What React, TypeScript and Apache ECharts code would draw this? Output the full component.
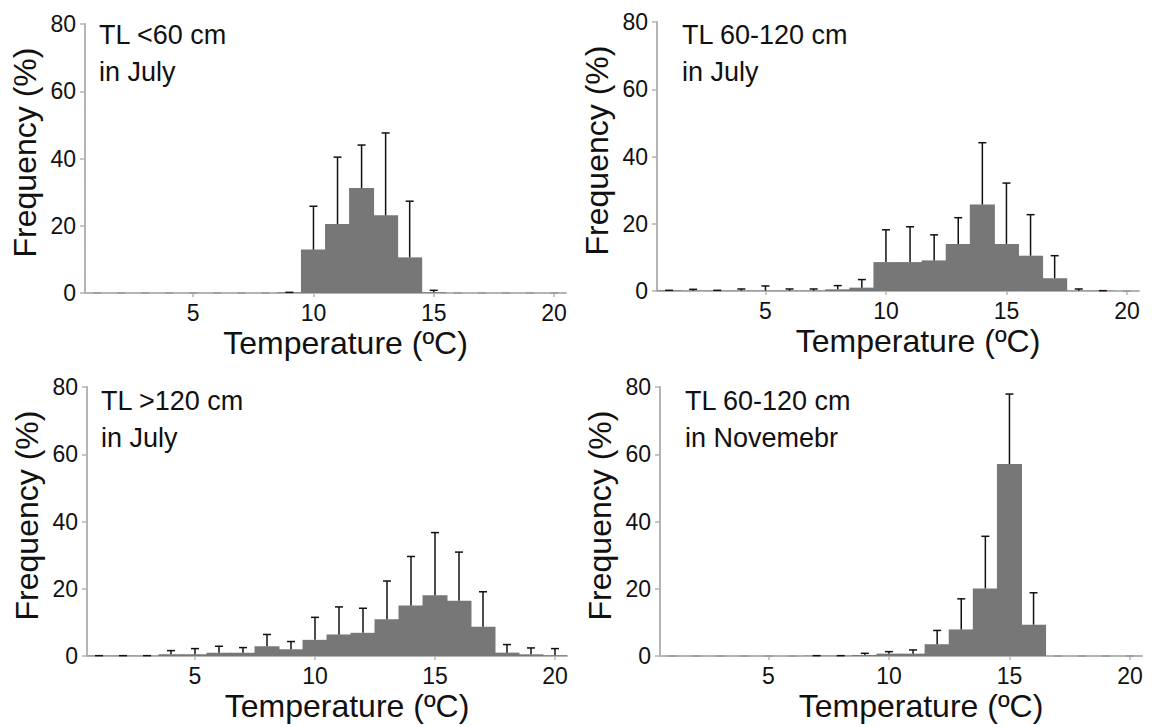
import React, { useEffect, useRef } from "react";
import * as echarts from "echarts";

const temps = ["1","2","3","4","5","6","7","8","9","10","11","12","13","14","15","16","17","18","19","20"];

const p1Freq = [0, 0, 0, 0, 0, 0, 0, 0, 0.2, 12.9, 20.5, 31.2, 23.1, 10.6, 0.2, 0, 0, 0, 0, 0];
const p1Err = [0, 0, 0, 0, 0, 0, 0, 0, 0, 12.9, 19.9, 12.8, 24.5, 16.7, 0.6, 0, 0, 0, 0, 0];

const p2Freq = [0.2, 0.1, 0.1, 0.1, 0.1, 0.1, 0.1, 0.5, 1.0, 8.6, 8.6, 9.1, 14.0, 25.7, 14.0, 10.5, 3.8, 0.1, 0.1, 0];
const p2Err = [0, 0.4, 0.1, 0.5, 1.4, 0.5, 0.5, 1.1, 2.4, 9.6, 10.5, 7.6, 7.8, 18.4, 18.1, 12.2, 6.7, 0.5, 0, 0];

const p3Freq = [0.1, 0.1, 0.1, 0.5, 0.5, 1.0, 1.0, 2.9, 2.0, 4.8, 6.4, 6.9, 10.9, 15.0, 18.1, 16.4, 8.7, 1.0, 0.5, 0.2];
const p3Err = [0, 0, 0, 1.1, 1.7, 1.9, 1.5, 3.5, 2.3, 6.7, 8.2, 7.3, 11.4, 14.6, 18.6, 14.5, 10.4, 2.4, 1.9, 2.0];

const p4Freq = [0, 0, 0, 0, 0, 0, 0.1, 0.1, 0.3, 0.7, 0.7, 3.5, 7.9, 20.1, 57.1, 9.3, 0, 0, 0, 0];
const p4Err = [0, 0, 0, 0, 0, 0, 0, 0, 0.5, 0.6, 1.1, 4.1, 9.1, 15.5, 20.8, 9.5, 0, 0, 0, 0];

const yTicks = { min: 0, max: 80, interval: 20 };
const xTickValues = ["5", "10", "15", "20"];

const panelLabels = [
  ["TL <60 cm", "in July"],
  ["TL 60-120 cm", "in July"],
  ["TL >120 cm", "in July"],
  ["TL 60-120 cm", "in Novemebr"],
];

const panels = [
  { freq: p1Freq, err: p1Err },
  { freq: p2Freq, err: p2Err },
  { freq: p3Freq, err: p3Err },
  { freq: p4Freq, err: p4Err },
];

const gridLayout = [
  { left: 85, top: 24, width: 481, height: 269 },
  { left: 657, top: 22, width: 482, height: 269 },
  { left: 87, top: 387, width: 480, height: 269 },
  { left: 660, top: 387, width: 482, height: 269 },
];

const FONT = "'Liberation Sans', Arial, sans-serif";
const AXIS_GRAY = "#b4b4b4";

export default function App() {
  const ref = useRef<HTMLDivElement>(null);
  useEffect(() => {
    if (!ref.current) return;
    const chart = echarts.init(ref.current, undefined, { renderer: "svg" });
    const showTick = (_i: number, v: string) => xTickValues.indexOf(String(v)) >= 0;

    const grids = gridLayout.map((g) => ({ ...g, containLabel: false }));
    const xAxes = gridLayout.map((_, i) => ({
      type: "category",
      gridIndex: i,
      data: temps,
      boundaryGap: true,
      axisLine: { show: true, lineStyle: { color: AXIS_GRAY, width: 2 } },
      axisTick: { show: true, interval: showTick, alignWithLabel: true, length: 4, lineStyle: { color: AXIS_GRAY, width: 1.5 } },
      axisLabel: { interval: showTick, fontSize: 23, color: "#111", margin: 8, fontFamily: FONT },
      splitLine: { show: false },
      name: "Temperature (ºC)",
      nameLocation: "middle",
      nameGap: 34,
      nameTextStyle: { fontSize: 32, color: "#111", fontFamily: FONT, padding: [0, 0, 0, 40] },
    }));
    const yAxes = gridLayout.map((_, i) => ({
      type: "value",
      gridIndex: i,
      ...yTicks,
      axisLine: { show: true, lineStyle: { color: AXIS_GRAY, width: 2 } },
      axisTick: { show: true, length: 5, lineStyle: { color: AXIS_GRAY, width: 1.5 } },
      axisLabel: { fontSize: 23, color: "#111", margin: 9, fontFamily: FONT },
      splitLine: { show: false },
      name: "Frequency (%)",
      nameLocation: "middle",
      nameGap: 44,
      nameTextStyle: { fontSize: 32, color: "#111", fontFamily: FONT, padding: [0, 0, 0, 12] },
    }));

    const series: any[] = [];
    panels.forEach((p, i) => {
      series.push({
        type: "bar",
        xAxisIndex: i,
        yAxisIndex: i,
        data: p.freq,
        barWidth: "104%",
        itemStyle: { color: "#777777" },
        z: 2,
      });
      series.push({
        type: "custom",
        xAxisIndex: i,
        yAxisIndex: i,
        data: p.freq.map((v, k) => [k, v, p.err[k]]),
        encode: { x: 0, y: 1 },
        z: 3,
        renderItem: (_params: any, api: any) => {
          const x = api.value(0);
          const v = api.value(1);
          const e = api.value(2);
          const base = api.coord([x, v]);
          const top = api.coord([x, v + e]);
          const color = v + e <= 0.001 ? "#9a9a9a" : "#111";
          const children: any[] = [];
          if (e > 0) {
            children.push({
              type: "line",
              shape: { x1: base[0], y1: base[1], x2: top[0], y2: top[1] },
              style: { stroke: color, lineWidth: 1.5 },
            });
          }
          children.push({
            type: "line",
            shape: { x1: top[0] - 4, y1: top[1], x2: top[0] + 4, y2: top[1] },
            style: { stroke: color, lineWidth: 1.5 },
          });
          return { type: "group", children };
        },
      });
    });

    const graphic: any[] = [];
    panelLabels.forEach((lines, i) => {
      const g = gridLayout[i];
      const offX = i % 2 === 0 ? 14 : 25;
      lines.forEach((t, j) => {
        graphic.push({
          type: "text",
          left: g.left + offX,
          top: g.top + (i < 2 ? 0 : 3) + (i === 1 ? 2 : 0) + j * 37 - 3,
          style: { text: t, fontSize: 27, fill: "#111", fontFamily: FONT },
        });
      });
    });

    chart.setOption({
      animation: false,
      backgroundColor: "#ffffff",
      grid: grids,
      xAxis: xAxes,
      yAxis: yAxes,
      series,
      graphic,
    });
    return () => chart.dispose();
  }, []);
  return <div ref={ref} style={{ position: "fixed", left: 0, top: 0, width: 1153, height: 727 }} />;
}
